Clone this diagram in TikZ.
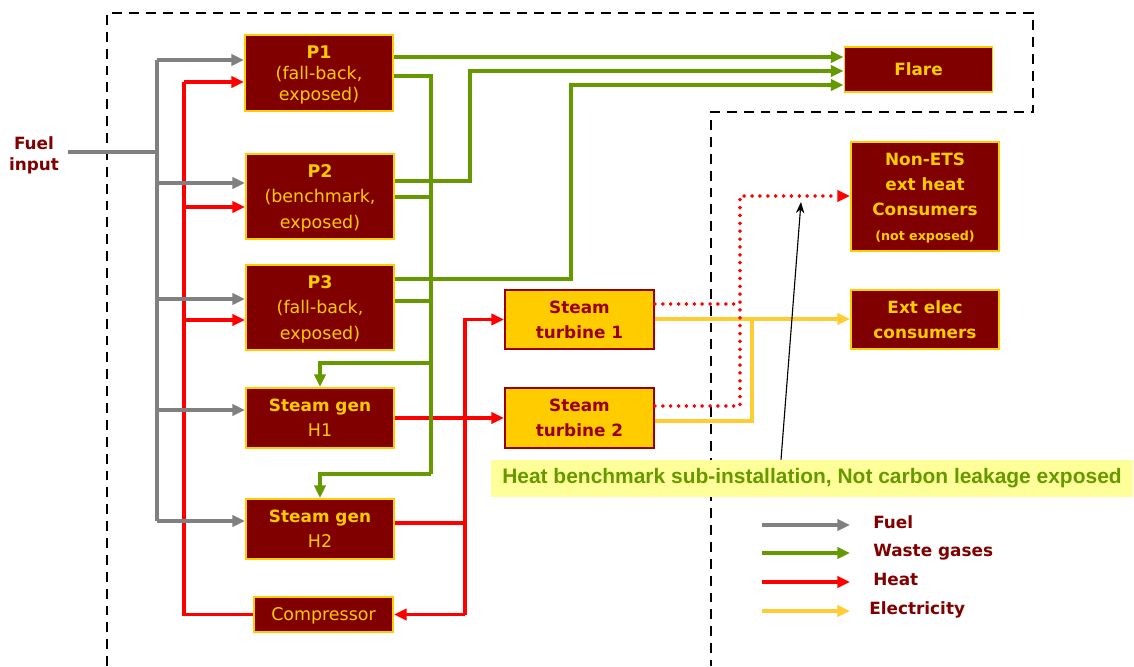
\documentclass[tikz,border=0pt]{standalone}
\usepackage{fontspec}
\setmainfont{DejaVu Sans}
\newfontfamily\arialfont{Liberation Sans}
\usetikzlibrary{positioning, calc, arrows.meta}
\definecolor{boxred}{RGB}{128,0,0}
\definecolor{boxgold}{RGB}{255,204,0}
\definecolor{fuelgray}{RGB}{128,128,128}
\definecolor{wastegreen}{RGB}{102,153,0}
\definecolor{heatred}{RGB}{255,0,0}
\definecolor{elecyellow}{RGB}{255,204,51}
\definecolor{notepale}{RGB}{255,255,153}
\definecolor{turbred}{RGB}{153,0,0}

\begin{document}
\begin{tikzpicture}[x=0.025cm, y=-0.025cm, >={Triangle[length=9pt,width=8pt]},
    unit/.style={draw=boxgold, line width=1.3pt, fill=boxred, text=boxgold, inner sep=0pt,
        align=center, minimum width=3.7cm, text depth=0pt, font=\fontsize{12.4}{17.8}\selectfont},
    boldunit/.style={unit, font=\bfseries\fontsize{12}{17.8}\selectfont},
    turbine/.style={boldunit, draw=turbred, fill=boxgold, text=turbred, minimum width=3.725cm},
    flowline/.style={line width=2.6pt},
    fuel/.style={flowline, draw=fuelgray},
    waste/.style={flowline, draw=wastegreen},
    heat/.style={flowline, draw=heatred},
    elec/.style={flowline, draw=elecyellow},
    extheat/.style={draw=heatred, line width=2.8pt, line cap=round, dash pattern=on 0pt off 5.6pt},
    boundary/.style={draw=black, line width=2pt, dash pattern=on 7pt off 5pt},
    legend/.style={text=boxred, font=\bfseries\fontsize{12}{14}\selectfont, anchor=west,
        inner sep=0pt, text height=0.75em, text depth=0.2em}]
    \useasboundingbox (0,0) rectangle (1134,666);

    \draw[boundary] (107,666) -- (107,13) -- (1033,13) -- (1033,112) -- (711,112) -- (711,666);

    \node[unit, minimum height=1.9cm, font=\fontsize{12.4}{15}\selectfont] (P1) at (319,73) {\textbf{P1}\\(fall-back,\\exposed)};
    \node[unit, minimum height=2.125cm] (P2) at (320,196.5) {\textbf{P2}\\(benchmark,\\exposed)};
    \node[unit, minimum height=2.125cm] (P3) at (320,307.5) {\textbf{P3}\\(fall-back,\\exposed)};
    \node[unit, minimum height=1.5cm] (H1) at (320,418) {\textbf{\fontsize{12}{17.8}\selectfont Steam gen}\\H1};
    \node[unit, minimum height=1.5cm] (H2) at (320,529) {\textbf{\fontsize{12}{17.8}\selectfont Steam gen}\\H2};
    \node[unit, minimum width=3.475cm, minimum height=0.875cm] (comp) at (323.5,614.5) {Compressor};
    \node[boldunit, minimum height=1.125cm] (flare) at (918.5,69.5) {Flare};
    \node[boldunit, minimum height=2.725cm] (nonets) at (925,196.5) {Non-ETS\\ext heat\\Consumers\\{\fontsize{9}{11}\selectfont(not exposed)}};
    \node[boldunit, minimum height=1.475cm] (extelec) at (925,319.5) {Ext elec\\consumers};
    \node[turbine, minimum height=1.475cm] (ST1) at (579.5,319.5) {Steam\\turbine 1};
    \node[turbine, minimum height=1.5cm] (ST2) at (579.5,418) {Steam\\turbine 2};
    \node[text=boxred, font=\bfseries\fontsize{12}{15}\selectfont, align=center, inner sep=0pt] (fuelin) at (34,155) {Fuel\\input};
    \node[fill=notepale, text=wastegreen, font=\arialfont\bfseries\fontsize{14.9}{17}\selectfont,
        minimum width=16.05cm, minimum height=0.925cm, inner sep=0pt] (note) at (812,478.5)
        {Heat benchmark sub-installation, Not carbon leakage exposed};

    \node[legend] (lfuel) at (873,525) {Fuel};
    \node[legend] (lwaste) at (873,553) {Waste gases};
    \node[legend] (lheat) at (873,582) {Heat};
    \node[legend] (lelec) at (869,611) {Electricity};

    \coordinate (fuelsrc) at (68,152);
    \coordinate (trunk) at (157,152);
    \coordinate (hbus) at (184,82);
    \coordinate (sbus) at (465,319.5);
    \coordinate (gbus) at (431,76);
    \coordinate (calltip) at (801,202);

    \draw[heat] (comp.west) -| (hbus);
    \foreach \n/\y in {P1/82, P2/207, P3/320}
        \draw[heat, ->] (hbus |- 0,\y) -- (\n.west |- 0,\y);
    \draw[heat, ->] (H1.east) -- (ST2.west);
    \draw[heat] (H2.east |- 0,523) -- (sbus |- 0,523);
    \draw[heat, ->] (sbus |- comp.east) |- (ST1.west);
    \draw[heat, ->] (sbus |- comp.east) -- (comp.east);

    \draw[fuel] (fuelsrc) -- (trunk);
    \draw[fuel] (trunk |- 0,60) -- (trunk |- 0,521);
    \foreach \n/\y in {P1/60, P2/183, P3/299, H1/410, H2/521}
        \draw[fuel, ->] (trunk |- 0,\y) -- (\n.west |- 0,\y);

    \draw[waste, ->] (P1.east |- 0,57) -- (flare.west |- 0,57);
    \draw[waste] (P1.east |- gbus) -- (gbus) -- (gbus |- 0,474);
    \draw[waste] (P2.east |- 0,197) -- (gbus |- 0,197);
    \draw[waste] (P3.east |- 0,301) -- (gbus |- 0,301);
    \draw[waste, ->] (gbus |- 0,363) -| (H1.north);
    \draw[waste, ->] (gbus |- 0,474) -| (H2.north);
    \draw[waste, ->] (P2.east |- 0,181) -| (470,71) -- (flare.west |- 0,71);
    \draw[waste, ->] (P3.east |- 0,279) -| (571,85) -- (flare.west |- 0,85);

    \draw[elec, ->] (ST1.east |- 0,319) -- (extelec.west |- 0,319);
    \draw[elec] (ST2.east |- 0,421) -| (752,319);

    \draw[extheat] (ST1.east |- 0,304) -- (740,304);
    \draw[extheat, ->] (ST2.east |- 0,406) -| (740,196) -- (nonets.west |- 0,196);

    \draw[black, line width=0.8pt, -{Stealth[length=8pt,width=6pt]}] (note.north -| 781,0) -- (calltip);

    \draw[fuel, ->] ([xshift=-2.775cm]lfuel.west) -- ([xshift=-0.575cm]lfuel.west);
    \draw[waste, ->] ([xshift=-2.775cm]lwaste.west) -- ([xshift=-0.575cm]lwaste.west);
    \draw[heat, ->] ([xshift=-2.775cm]lheat.west) -- ([xshift=-0.575cm]lheat.west);
    \draw[elec, ->] ([xshift=-2.675cm]lelec.west) -- ([xshift=-0.475cm]lelec.west);
\end{tikzpicture}
\end{document}
